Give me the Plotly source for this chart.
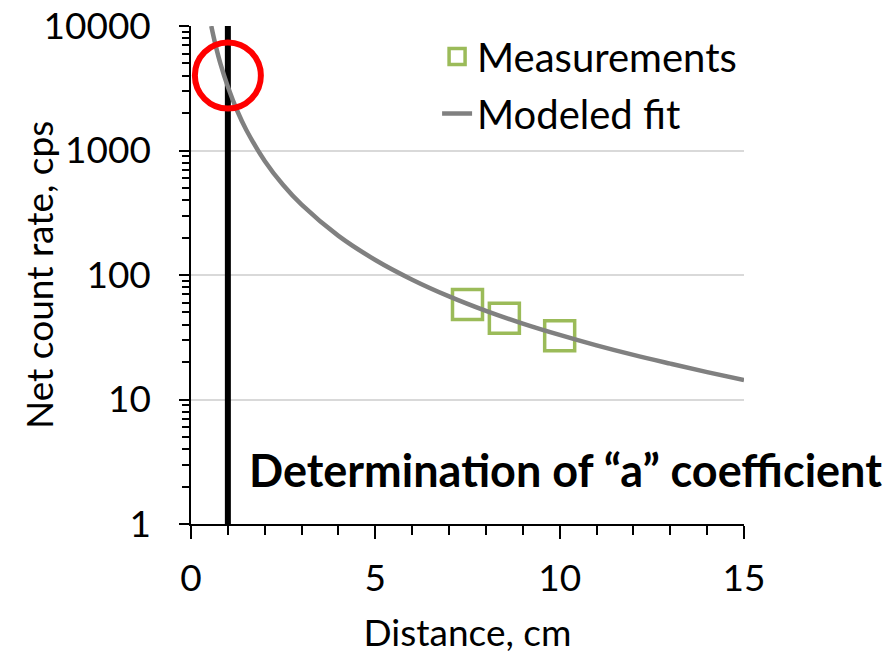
import plotly.graph_objects as go

# Modeled fit curve
fit_x = [0.55, 0.65, 0.8, 1.0, 1.25, 1.5, 2.0, 2.5, 3.0, 4.0, 5.0, 6.0, 7.0, 8.0, 9.0, 10.0, 11.0, 12.0, 13.0, 14.0, 15.0]
fit_y = [10000, 7350, 4960, 3250, 2095, 1462, 825, 528, 367, 206, 132, 91.7, 67.3, 51.5, 40.7, 33, 27.2, 22.8, 19.4, 16.6, 14.3]

# Measurements
meas_x = [7.5, 8.5, 10.0]
meas_y = [58, 45, 32.5]

# Vertical reference line at distance "a"
vline_x = [1, 1]
vline_y = [1, 10000]

# Highlight circle
circle_x = [1]
circle_y = [4000]

y_tickvals = [1, 10, 100, 1000, 10000]
y_ticktext = ["1", "10", "100", "1000", "10000"]
y_minor = [2, 3, 4, 5, 6, 7, 8, 9, 20, 30, 40, 50, 60, 70, 80, 90,
           200, 300, 400, 500, 600, 700, 800, 900, 2000, 3000, 4000, 5000, 6000, 7000, 8000, 9000]
x_tickvals = [0, 5, 10, 15]

FONT = "Lato"
FS = 37

fig = go.Figure()

fig.add_trace(go.Scatter(
    x=vline_x, y=vline_y, mode="lines",
    line=dict(color="black", width=6), showlegend=False, hoverinfo="skip"))

fig.add_trace(go.Scatter(
    x=meas_x, y=meas_y, mode="markers", name="Measurements",
    marker=dict(symbol="square-open", size=30, color="#9BBB59", line=dict(color="#9BBB59", width=3.5)),
    legendgroup="a"))

fig.add_trace(go.Scatter(
    x=fit_x, y=fit_y, mode="lines", name="Modeled fit", line_shape="spline",
    line=dict(color="#808080", width=4.5), legendgroup="b"))

fig.add_trace(go.Scatter(
    x=circle_x, y=circle_y, mode="markers",
    marker=dict(symbol="circle-open", size=66, color="#FF0000", line=dict(color="#FF0000", width=6)),
    showlegend=False, hoverinfo="skip"))

fig.add_annotation(
    text="<b>Determination of “a” coefficient</b>",
    xref="paper", yref="paper", x=(247 - 191) / 553, y=(524 - 470) / 498,
    xanchor="left", yanchor="middle", showarrow=False,
    font=dict(family=FONT, size=45, color="black"))

# Y axis title
fig.add_annotation(
    text="Net count rate, cps",
    xref="paper", yref="paper", x=(38 - 191) / 553, y=(524 - 275) / 498,
    xanchor="center", yanchor="middle", textangle=-90, showarrow=False,
    font=dict(family=FONT, size=FS, color="black"))

fig.update_layout(
    width=889, height=658,
    margin=dict(l=191, r=145, t=26, b=134, autoexpand=False),
    plot_bgcolor="white", paper_bgcolor="white",
    font=dict(family=FONT, size=FS, color="black"),
    legend=dict(x=0.445, y=1.004, xanchor="left", yanchor="top",
                font=dict(family=FONT, size=40, color="black"),
                bgcolor="rgba(0,0,0,0)", tracegroupgap=2, traceorder="grouped"),
    xaxis=dict(
        range=[0, 15], tickvals=x_tickvals, ticks="outside", ticklen=13, tickwidth=1.5,
        tickcolor="black", showline=True, linecolor="black", linewidth=1.5,
        showgrid=False, zeroline=False, automargin=False,
        minor=dict(dtick=1, ticks="outside", ticklen=9, tickwidth=1.5, tickcolor="black", showgrid=False),
        title=dict(text="Distance, cm", font=dict(family=FONT, size=FS), standoff=22),
        tickfont=dict(family=FONT, size=FS), ticklabelstandoff=8),
    yaxis=dict(
        type="log", range=[0, 4], tickvals=y_tickvals, ticktext=y_ticktext,
        ticks="outside", ticklen=10, tickwidth=1.5, tickcolor="black",
        showline=True, linecolor="black", linewidth=1.5, automargin=False,
        showgrid=True, gridcolor="#D9D9D9", gridwidth=1.5, zeroline=False,
        minor=dict(tickvals=y_minor, ticks="outside", ticklen=7, tickwidth=1.5,
                   tickcolor="black", showgrid=False),
        tickfont=dict(family=FONT, size=FS), ticklabelstandoff=21),
)

fig.write_html("out.html")
